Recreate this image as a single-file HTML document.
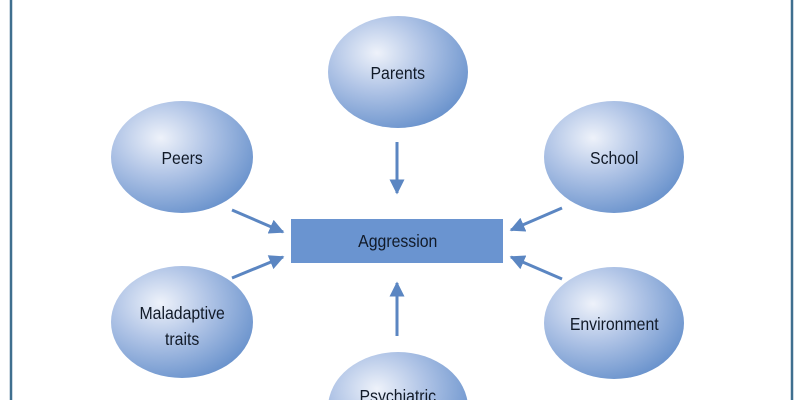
<!DOCTYPE html>
<html><head><style>
html,body{margin:0;padding:0;background:#fff;width:800px;height:400px;overflow:hidden;}
svg{display:block;}
text{font-family:"Liberation Sans",sans-serif;font-size:18px;fill:#111a28;text-anchor:middle;}
</style></head><body>
<svg width="800" height="400" viewBox="0 0 800 400" xmlns="http://www.w3.org/2000/svg">
<defs>
<radialGradient id="g" cx="0.35" cy="0.33" r="0.75">
<stop offset="0" stop-color="#eef2fa"/>
<stop offset="0.45" stop-color="#b0c4e6"/>
<stop offset="1" stop-color="#6690cb"/>
</radialGradient>
<marker id="a" viewBox="0 0 10 10" refX="9" refY="5" markerWidth="5" markerHeight="5" orient="auto">
<path d="M0,0 L10,5 L0,10 z" fill="#5b86c2"/>
</marker>
</defs>
<line x1="11" y1="0" x2="11" y2="400" stroke="#3f6f8f" stroke-width="2.5"/>
<line x1="792" y1="0" x2="792" y2="400" stroke="#3f6f8f" stroke-width="2.5"/>
<ellipse cx="398" cy="72" rx="70" ry="56" fill="url(#g)"/>
<ellipse cx="182" cy="157" rx="71" ry="56" fill="url(#g)"/>
<ellipse cx="614" cy="157" rx="70" ry="56" fill="url(#g)"/>
<ellipse cx="182" cy="322" rx="71" ry="56" fill="url(#g)"/>
<ellipse cx="614" cy="323" rx="70" ry="56" fill="url(#g)"/>
<ellipse cx="398" cy="408" rx="70" ry="56" fill="url(#g)"/>
<rect x="291" y="219" width="212" height="44" fill="#6a94d0"/>
<g stroke="#5b86c2" stroke-width="3" marker-end="url(#a)">
<line x1="397" y1="142" x2="397" y2="193"/>
<line x1="397" y1="336" x2="397" y2="283"/>
<line x1="232" y1="210" x2="283" y2="232"/>
<line x1="232" y1="278" x2="283" y2="257"/>
<line x1="562" y1="208" x2="511" y2="230"/>
<line x1="562" y1="279" x2="511" y2="257"/>
</g>
<g transform="scale(0.88,1)">
<text x="452" y="79">Parents</text>
<text x="207" y="164">Peers</text>
<text x="698" y="164">School</text>
<text x="207" y="319">Maladaptive</text>
<text x="207" y="345">traits</text>
<text x="698" y="330">Environment</text>
<text x="452" y="247">Aggression</text>
<text x="452" y="402">Psychiatric</text>
</g>
</svg>
</body></html>
